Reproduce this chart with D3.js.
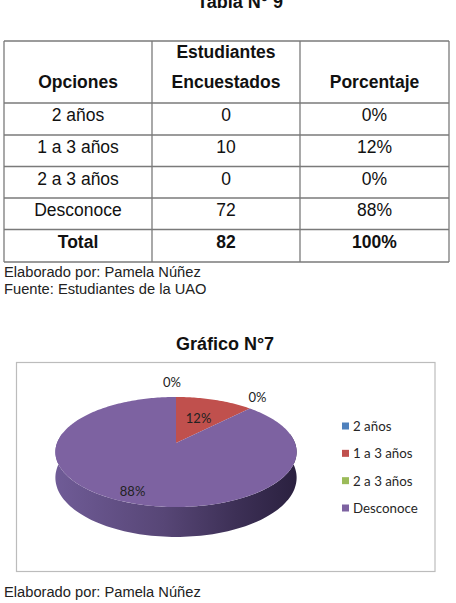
<!DOCTYPE html>
<html><head><meta charset="utf-8">
<script src="https://cdn.jsdelivr.net/npm/d3@7"></script>
<style>
html,body{margin:0;padding:0;background:#fff;}
svg{display:block;}
</style></head>
<body>
<svg id="c" width="456" height="603"></svg>
<script>
// ---- data ----
const tableTitle = "Tabla N° 9";
const chartTitle = "Gráfico N°7";
const headerLine1 = ["", "Estudiantes", ""];
const headerLine2 = ["Opciones", "Encuestados", "Porcentaje"];
const categories = ["2 años", "1 a 3 años", "2 a 3 años", "Desconoce"];
const students = [0, 10, 0, 72];
const percents = ["0%", "12%", "0%", "88%"];
const totalRow = ["Total", "82", "100%"];
const colors = ["#4F81BD", "#C0504D", "#9BBB59", "#7D62A1"];
const notesTable = ["Elaborado por: Pamela Núñez", "Fuente: Estudiantes de la UAO"];
const notesChart = ["Elaborado por: Pamela Núñez"];

const svg = d3.select("#c");
const TF = "'Liberation Sans', Arial, sans-serif";
const CF = "Lato, 'Open Sans', sans-serif";

// ---- table title ----
svg.append("text").attr("x", 240).attr("y", 8).attr("text-anchor", "middle")
  .attr("font-family", TF).attr("font-weight", "bold").attr("font-size", 18)
  .attr("fill", "#111").text(tableTitle);

// ---- table ----
const colEdges = [4, 152, 300, 449];
const rowEdges = [41, 103, 135, 166.5, 198, 229.5, 262];
const g = svg.append("g");
const xc = i => (colEdges[i] + colEdges[i + 1]) / 2;
colEdges.forEach(x => g.append("line").attr("x1", x).attr("x2", x)
  .attr("y1", rowEdges[0]).attr("y2", rowEdges[rowEdges.length - 1])
  .attr("stroke", "#7a7a7a").attr("stroke-width", 1.3));
rowEdges.forEach(y => g.append("line").attr("x1", colEdges[0]).attr("x2", colEdges[3])
  .attr("y1", y).attr("y2", y).attr("stroke", "#7a7a7a").attr("stroke-width", 1.3));
headerLine1.forEach((t, i) => g.append("text").attr("x", xc(i)).attr("y", 58)
  .attr("text-anchor", "middle").attr("font-family", TF).attr("font-weight", "bold")
  .attr("font-size", 17.5).attr("fill", "#111").text(t));
headerLine2.forEach((t, i) => g.append("text").attr("x", xc(i)).attr("y", 88)
  .attr("text-anchor", "middle").attr("font-family", TF).attr("font-weight", "bold")
  .attr("font-size", 17.5).attr("fill", "#111").text(t));
categories.forEach((c, r) => {
  const vals = [c, String(students[r]), percents[r]];
  vals.forEach((t, i) => g.append("text").attr("x", xc(i)).attr("y", rowEdges[r + 1] + 18)
    .attr("text-anchor", "middle").attr("font-family", TF).attr("font-size", 17.5)
    .attr("fill", "#111").text(t));
});
totalRow.forEach((t, i) => g.append("text").attr("x", xc(i)).attr("y", rowEdges[5] + 18.5)
  .attr("text-anchor", "middle").attr("font-family", TF).attr("font-weight", "bold")
  .attr("font-size", 17.5).attr("fill", "#111").text(t));

notesTable.forEach((t, i) => svg.append("text").attr("x", 4).attr("y", 277 + i * 16.5)
  .attr("font-family", TF).attr("font-size", 14.7).attr("fill", "#222").text(t));

// ---- chart title ----
svg.append("text").attr("x", 225).attr("y", 350).attr("text-anchor", "middle")
  .attr("font-family", TF).attr("font-weight", "bold").attr("font-size", 18)
  .attr("fill", "#111").text(chartTitle);

svg.append("rect").attr("x", 16.5).attr("y", 362.5).attr("width", 418.5).attr("height", 209)
  .attr("fill", "#fff").attr("stroke", "#bcbcbc").attr("stroke-width", 1.2);

// ---- 3D pie with perspective ----
const R = 119, Dp = 6.11 * R, K = 0.45, cx = 176, cy = 443, depth = 25;
function proj(theta, r, h) {
  const u = r * Math.sin(theta), v = r * Math.cos(theta);
  const s = Dp / (Dp + v);
  return [cx + u * s, cy - v * K * s + h * s];
}
const line = d3.line().curve(d3.curveLinearClosed);
const pie = d3.pie().sort(null).value(d => d);
const arcs = pie(students);

const defs = svg.append("defs");
const grad = defs.append("linearGradient").attr("id", "side")
  .attr("gradientUnits", "userSpaceOnUse")
  .attr("x1", cx - R).attr("x2", cx + R).attr("y1", 0).attr("y2", 0);
grad.append("stop").attr("offset", 0).attr("stop-color", "#6f5b96");
grad.append("stop").attr("offset", 0.45).attr("stop-color", "#574676");
grad.append("stop").attr("offset", 0.75).attr("stop-color", "#3d3056");
grad.append("stop").attr("offset", 1).attr("stop-color", "#2b2140");

const N = 120;
const sideTop = d3.range(N + 1).map(i => proj((80 + 200 * i / N) * Math.PI / 180, R, 0));
const sideBot = d3.range(N + 1).map(i => proj((80 + 200 * i / N) * Math.PI / 180, R, depth)).reverse();
svg.append("path").attr("d", line(sideTop.concat(sideBot))).attr("fill", "url(#side)");

arcs.forEach((a, i) => {
  if (a.endAngle - a.startAngle <= 0) return;
  const n = Math.max(8, Math.ceil((a.endAngle - a.startAngle) / 0.02));
  const pts = [proj(0, 0, 0)].concat(d3.range(n + 1).map(k =>
    proj(a.startAngle + (a.endAngle - a.startAngle) * k / n, R, 0)));
  svg.append("path").attr("d", line(pts)).attr("fill", colors[i]);
});

arcs.forEach((a, i) => {
  let p;
  if (a.endAngle - a.startAngle > 0) {
    const mid = (a.startAngle + a.endAngle) / 2;
    const frac = students[i] > 40 ? 0.85 : 0.55;
    p = proj(mid, frac * R, 0);
  } else {
    const e = proj(a.startAngle, R, 0);
    const off = 14;
    p = [e[0] + off * Math.sin(a.startAngle) - (i === 0 ? 4 : 2), e[1] - off * Math.cos(a.startAngle) - 1];
  }
  svg.append("text").attr("x", p[0]).attr("y", p[1]).attr("text-anchor", "middle")
    .attr("dominant-baseline", "central").attr("font-family", CF).attr("font-size", 13)
    .attr("fill", "#222").text(percents[i]);
});

const ly = d3.scalePoint().domain(categories).range([426, 508]);
categories.forEach((c, i) => {
  svg.append("rect").attr("x", 342).attr("y", ly(c) - 3.5).attr("width", 7).attr("height", 7)
    .attr("fill", colors[i]);
  svg.append("text").attr("x", 353).attr("y", ly(c)).attr("dominant-baseline", "central")
    .attr("font-family", CF).attr("font-size", 13.3).attr("fill", "#262626").text(c);
});

notesChart.forEach((t, i) => svg.append("text").attr("x", 4).attr("y", 597 + i * 16.5)
  .attr("font-family", TF).attr("font-size", 14.7).attr("fill", "#222").text(t));
</script>
</body></html>
